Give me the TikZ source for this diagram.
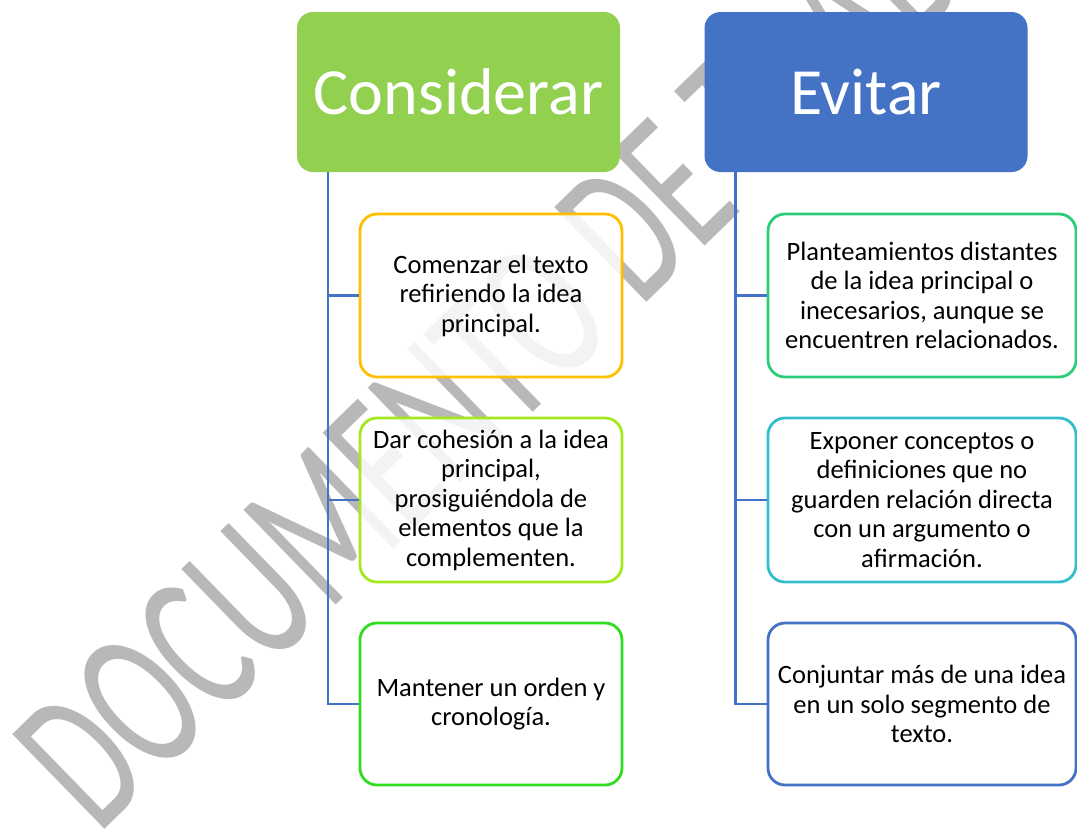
\documentclass[tikz,border=0pt]{standalone}
\usepackage{fontspec}
\setmainfont{Carlito}
\definecolor{cgreen}{HTML}{92D050}
\definecolor{cblue}{HTML}{4472C4}
\definecolor{corange}{HTML}{FFC000}
\definecolor{clime}{RGB}{165,232,30}
\definecolor{cgreen2}{RGB}{50,220,30}
\definecolor{cteal}{RGB}{45,205,120}
\definecolor{ccyan}{RGB}{50,190,205}
\definecolor{wmgray}{RGB}{185,184,184}
\tikzset{
  titlebox/.style={draw=none, fill=#1, rounded corners=16pt, minimum width=323pt, minimum height=160pt, inner sep=0pt, text=white, font=\fontsize{66}{70}\selectfont},
  itembox/.style={draw=#1, line width=2.8pt, fill=white, fill opacity=0.84, text opacity=1, rounded corners=17pt, inner sep=0pt, align=center, font=\fontsize{26.5}{29.5}\selectfont},
  conn/.style={draw=cblue, line width=2.6pt},
  wm/.style={text=wmgray, inner sep=0pt, font=\fontsize{206}{206}\selectfont}
}
\begin{document}
\begin{tikzpicture}[x=1pt,y=-1pt]
\useasboundingbox (0,0) rectangle (1077,839);
\clip (0,0) rectangle (1077,839);
\fill[white] (0,0) rectangle (1077,839);
% watermark
\node[wm, anchor=base west, rotate=44.2, xscale=0.635] (wm) at (98,836) {DOCUMENTO DE TRABAJO};
% titles
\node[titlebox=cgreen] (cons) at (458.5,92) {Considerar};
\node[titlebox=cblue] (evit) at (866,92) {Evitar};
% left items
\node[itembox=corange, minimum width=262pt, minimum height=163pt] (l1) at (491,295.5) {Comenzar el texto\\refiriendo la idea\\principal.};
\node[itembox=clime, minimum width=262pt, minimum height=164pt] (l2) at (491,500) {Dar cohesión a la idea\\principal,\\prosiguiéndola de\\elementos que la\\complementen.};
\node[itembox=cgreen2, minimum width=262pt, minimum height=162pt] (l3) at (491,704) {Mantener un orden y\\cronología.};
% right items
\node[itembox=cteal, minimum width=308pt, minimum height=163pt] (r1) at (922,295.5) {Planteamientos distantes\\de la idea principal o\\inecesarios, aunque se\\encuentren relacionados.};
\node[itembox=ccyan, minimum width=308pt, minimum height=164pt] (r2) at (922,500) {Exponer conceptos o\\definiciones que no\\guarden relación directa\\con un argumento o\\afirmación.};
\node[itembox=cblue, minimum width=308pt, minimum height=162pt] (r3) at (922,704) {Conjuntar más de una idea\\en un solo segmento de\\texto.};
% connectors
\draw[conn] ([xshift=31pt]cons.south west) |- (l1.west);
\draw[conn] ([xshift=31pt]cons.south west) |- (l2.west);
\draw[conn] ([xshift=31pt]cons.south west) |- (l3.west);
\draw[conn] ([xshift=31pt]evit.south west) |- (r1.west);
\draw[conn] ([xshift=31pt]evit.south west) |- (r2.west);
\draw[conn] ([xshift=31pt]evit.south west) |- (r3.west);
\end{tikzpicture}
\end{document}
